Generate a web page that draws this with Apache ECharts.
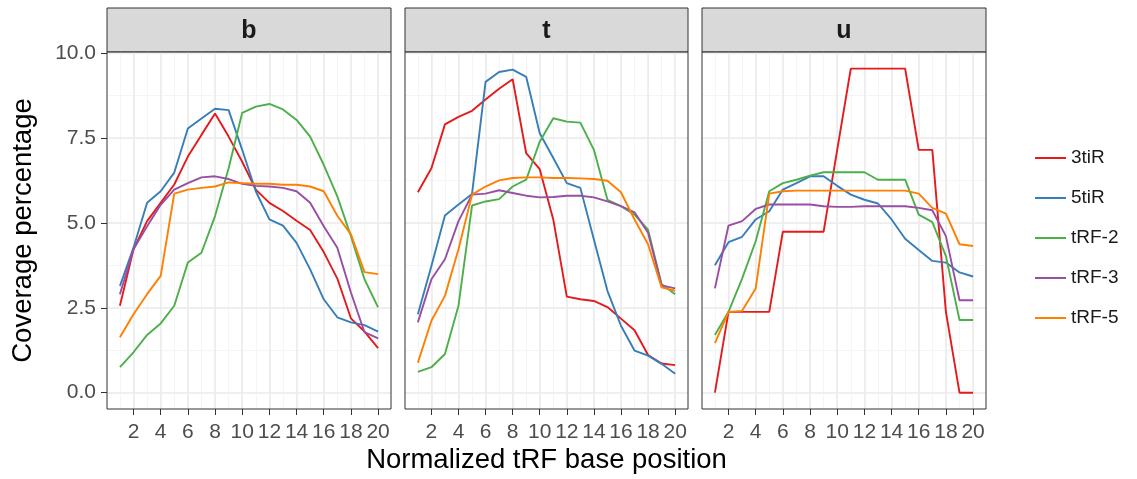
<!DOCTYPE html>
<html>
<head>
<meta charset="utf-8">
<script src="https://cdn.jsdelivr.net/npm/echarts@6/dist/echarts.min.js"></script>
<style>
  html, body { margin: 0; padding: 0; background: #fff; }
  #chart { width: 1137px; height: 479px; }
</style>
</head>
<body>
<div id="chart"></div>
<script>
// x positions 1..20
const positions = [1, 2, 3, 4, 5, 6, 7, 8, 9, 10, 11, 12, 13, 14, 15, 16, 17, 18, 19, 20];
const panelNames = ["b", "t", "u"];
const seriesNames = ["3tiR", "5tiR", "tRF-2", "tRF-3", "tRF-5"];

// panel b
const b3tiR = [2.56, 4.22, 5.05, 5.59, 6.13, 6.95, 7.59, 8.22, 7.54, 6.80, 5.98, 5.59, 5.35, 5.06, 4.79, 4.14, 3.36, 2.19, 1.80, 1.31];
const b5tiR = [3.14, 4.27, 5.59, 5.93, 6.48, 7.78, 8.07, 8.36, 8.32, 7.15, 5.93, 5.10, 4.92, 4.41, 3.63, 2.75, 2.22, 2.07, 1.99, 1.80];
const bTRF2 = [0.75, 1.19, 1.70, 2.04, 2.56, 3.83, 4.12, 5.20, 6.61, 8.24, 8.42, 8.50, 8.34, 8.03, 7.54, 6.71, 5.78, 4.61, 3.34, 2.51];
const bTRF3 = [2.90, 4.22, 4.90, 5.53, 5.98, 6.17, 6.34, 6.37, 6.29, 6.15, 6.09, 6.07, 6.03, 5.93, 5.59, 4.90, 4.27, 2.95, 1.78, 1.60];
const bTRF5 = [1.63, 2.31, 2.90, 3.44, 5.86, 5.98, 6.03, 6.07, 6.19, 6.17, 6.15, 6.15, 6.12, 6.12, 6.07, 5.93, 5.21, 4.66, 3.55, 3.49];

// panel t
const t3tiR = [5.90, 6.61, 7.90, 8.12, 8.30, 8.63, 8.95, 9.23, 7.05, 6.58, 5.10, 2.83, 2.75, 2.70, 2.52, 2.18, 1.84, 1.11, 0.86, 0.81];
const t5tiR = [2.31, 3.73, 5.22, 5.54, 5.85, 9.15, 9.44, 9.51, 9.30, 7.64, 6.91, 6.17, 6.03, 4.51, 3.00, 1.97, 1.24, 1.09, 0.85, 0.56];
const tTRF2 = [0.61, 0.75, 1.14, 2.56, 5.51, 5.63, 5.70, 6.07, 6.27, 7.39, 8.08, 7.98, 7.95, 7.15, 5.68, 5.49, 5.24, 4.80, 3.19, 2.90];
const tTRF3 = [2.07, 3.34, 3.93, 5.05, 5.83, 5.86, 5.96, 5.88, 5.80, 5.75, 5.76, 5.80, 5.80, 5.75, 5.63, 5.49, 5.31, 4.71, 3.16, 3.07];
const tTRF5 = [0.88, 2.12, 2.85, 4.22, 5.83, 6.07, 6.25, 6.32, 6.34, 6.34, 6.32, 6.32, 6.31, 6.29, 6.24, 5.90, 5.10, 4.37, 3.10, 3.00];

// panel u
const u3tiR = [0, 2.38, 2.38, 2.38, 2.38, 4.74, 4.74, 4.74, 4.74, 7.15, 9.54, 9.54, 9.54, 9.54, 9.54, 7.15, 7.15, 2.38, 0, 0];
const u5tiR = [3.75, 4.43, 4.59, 5.10, 5.34, 5.98, 6.17, 6.37, 6.37, 6.09, 5.83, 5.68, 5.57, 5.10, 4.53, 4.20, 3.88, 3.83, 3.54, 3.42];
const uTRF2 = [1.70, 2.38, 3.36, 4.46, 5.93, 6.17, 6.27, 6.39, 6.49, 6.49, 6.49, 6.49, 6.27, 6.27, 6.27, 5.24, 5.02, 4.02, 2.14, 2.14];
const uTRF3 = [3.07, 4.92, 5.05, 5.41, 5.54, 5.54, 5.54, 5.54, 5.49, 5.47, 5.47, 5.49, 5.49, 5.49, 5.49, 5.44, 5.37, 4.61, 2.72, 2.72];
const uTRF5 = [1.46, 2.38, 2.41, 3.07, 5.86, 5.93, 5.95, 5.95, 5.95, 5.95, 5.95, 5.95, 5.95, 5.95, 5.95, 5.86, 5.44, 5.27, 4.37, 4.32];

const panelData = [
    [b3tiR, b5tiR, bTRF2, bTRF3, bTRF5],
    [t3tiR, t5tiR, tTRF2, tTRF3, tTRF5],
    [u3tiR, u5tiR, uTRF2, uTRF3, uTRF5],
];
const colors = ["#E41A1C", "#377EB8", "#4DAF4A", "#984EA3", "#FF7F00"];

const FONT = "Liberation Sans, Arial, sans-serif";
const panelBoxes = [
    { left: 107, width: 284 },
    { left: 405, width: 283 },
    { left: 702, width: 284 },
];
const panelTop = 52;
const panelHeight = 357;
const stripTop = 8;
// ggplot-style expanded ranges
const xRange = [0.05, 20.95];
const yRange = [-0.48, 10.03];

const chart = echarts.init(document.getElementById("chart"));

const grids = [];
const xAxes = [];
const yAxes = [];
const series = [];
const graphics = [];

const hidden = { show: false };

// add a grid with one x and one y axis, returns its index
function addGrid(box, xOpt, yOpt, gridOpt) {
    const idx = grids.length;
    grids.push(Object.assign({
        left: box.left, top: box.top, width: box.width, height: box.height,
        show: false, outerBoundsMode: "none",
    }, gridOpt || {}));
    xAxes.push(Object.assign({ type: "value", gridIndex: idx, position: "bottom", show: false }, xOpt));
    yAxes.push(Object.assign({ type: "value", gridIndex: idx, position: "left", show: false }, yOpt));
    return idx;
}

const minorLine = { show: true, lineStyle: { color: "#f2f2f2", width: 0.8 } };
const majorLine = { show: true, lineStyle: { color: "#ebebeb", width: 1.6 } };

panelBoxes.forEach((box, p) => {
    const xs = box.width / (xRange[1] - xRange[0]);
    const ys = panelHeight / (yRange[1] - yRange[0]);
    const xAt = (v) => box.left + (v - xRange[0]) * xs;
    const yAt = (v) => panelTop + (yRange[1] - v) * ys;

    // vertical minor lines (every integer)
    addGrid(
        { left: xAt(1), top: panelTop, width: xAt(20) - xAt(1), height: panelHeight },
        { show: true, min: 1, max: 20, interval: 1, axisLine: hidden, axisTick: hidden, axisLabel: hidden, splitLine: minorLine, z: 1 },
        { min: 0, max: 1 }
    );
    // horizontal minor lines
    addGrid(
        { left: box.left, top: yAt(10), width: box.width, height: yAt(0) - yAt(10) },
        { min: 0, max: 1 },
        { show: true, min: 0, max: 10, interval: 1.25, axisLine: hidden, axisTick: hidden, axisLabel: hidden, splitLine: minorLine, z: 1 }
    );
    // vertical major lines, ticks and labels
    addGrid(
        { left: xAt(2), top: panelTop, width: xAt(20) - xAt(2), height: panelHeight },
        {
            show: true, min: 2, max: 20, interval: 2, z: 2,
            axisLine: hidden,
            axisTick: { show: true, length: 6, lineStyle: { color: "#333", width: 1 } },
            axisLabel: { show: true, color: "#4d4d4d", fontSize: 21, fontFamily: FONT, margin: 13 },
            splitLine: majorLine,
        },
        { min: 0, max: 1 }
    );
    // horizontal major lines, ticks and labels (left panel only)
    addGrid(
        { left: box.left, top: yAt(10), width: box.width, height: yAt(0) - yAt(10) },
        { min: 0, max: 1 },
        {
            show: true, min: 0, max: 10, interval: 2.5, z: 2,
            axisLine: hidden,
            axisTick: { show: p === 0, length: 6, lineStyle: { color: "#333", width: 1 } },
            axisLabel: {
                show: p === 0, color: "#4d4d4d", fontSize: 21, fontFamily: FONT, margin: 11,
                formatter: (v) => v.toFixed(1),
            },
            splitLine: majorLine,
        }
    );
    // data panel with border
    const g = addGrid(
        { left: box.left, top: panelTop, width: box.width, height: panelHeight },
        { min: xRange[0], max: xRange[1] },
        { min: yRange[0], max: yRange[1] },
        { show: true, backgroundColor: "transparent", borderColor: "#333", borderWidth: 1, z: 6 }
    );

    panelData[p].forEach((vals, s) => {
        series.push({
            name: seriesNames[s],
            type: "line",
            xAxisIndex: g,
            yAxisIndex: g,
            data: positions.map((x, i) => [x, vals[i]]),
            showSymbol: false,
            symbol: "none",
            lineStyle: { color: colors[s], width: 1.9 },
            itemStyle: { color: colors[s] },
            z: 5,
        });
    });

    // facet strip
    graphics.push({
        type: "rect",
        shape: { x: box.left, y: stripTop, width: box.width, height: panelTop - stripTop },
        style: { fill: "#d9d9d9", stroke: "#333", lineWidth: 1 },
    });
    graphics.push({
        type: "text",
        x: box.left + box.width / 2, y: (stripTop + panelTop) / 2 + 1,
        style: {
            text: panelNames[p], fill: "#1a1a1a", fontSize: 25, fontWeight: "bold", fontFamily: FONT,
            align: "center", verticalAlign: "middle",
        },
    });
});

// axis titles
graphics.push({
    type: "text",
    x: (panelBoxes[0].left + panelBoxes[2].left + panelBoxes[2].width) / 2, y: 460,
    style: {
        text: "Normalized tRF base position", fill: "#000", fontSize: 27.5, fontFamily: FONT,
        align: "center", verticalAlign: "middle",
    },
});
graphics.push({
    type: "text",
    x: 23, y: panelTop + panelHeight / 2, rotation: Math.PI / 2,
    style: {
        text: "Coverage percentage", fill: "#000", fontSize: 27.5, fontFamily: FONT,
        align: "center", verticalAlign: "middle",
    },
});

const option = {
    animation: false,
    backgroundColor: "#fff",
    grid: grids,
    xAxis: xAxes,
    yAxis: yAxes,
    series: series,
    graphic: graphics,
    legend: {
        data: seriesNames,
        orient: "vertical",
        left: 1030, top: 141,
        icon: "rect",
        itemWidth: 31, itemHeight: 2,
        itemGap: 16,
        textStyle: { color: "#1a1a1a", fontSize: 19, fontFamily: FONT, lineHeight: 24 },
    },
};

chart.setOption(option);
</script>
</body>
</html>
